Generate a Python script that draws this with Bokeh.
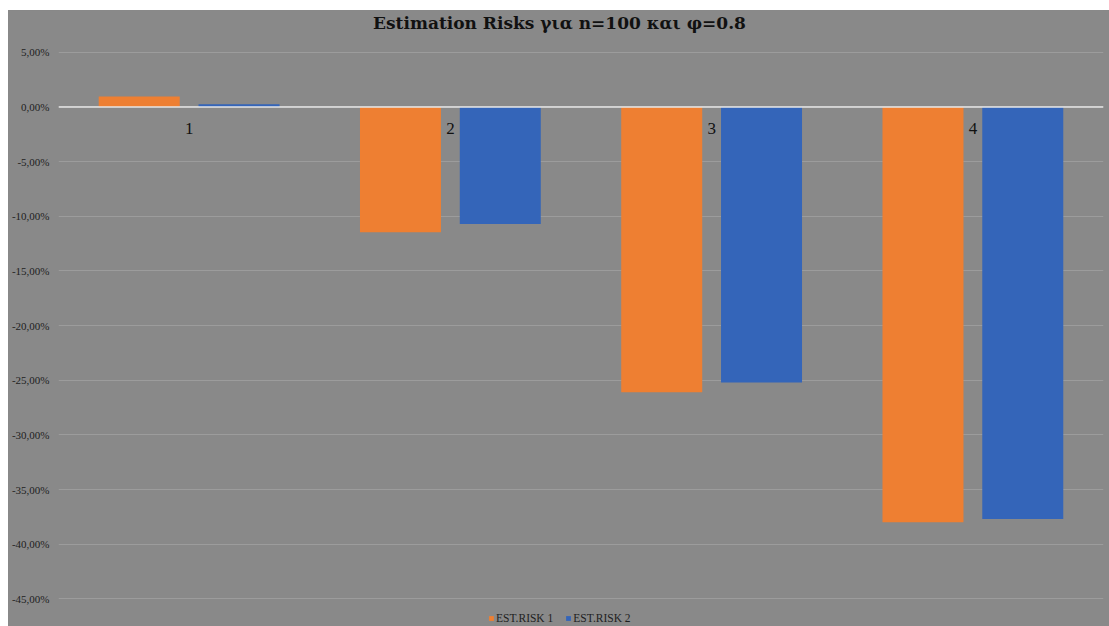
from bokeh.plotting import figure
from bokeh.layouts import column, row
from bokeh.models import (ColumnDataSource, FixedTicker, Span, Legend, LegendItem, Range1d,
                          Spacer, Label)
from bokeh.transform import dodge
from bokeh.core.properties import value
from bokeh.embed import file_html
from bokeh.resources import INLINE

# ---- data ----
categories = ["1", "2", "3", "4"]
cat_pos = [1, 2, 3, 4]
est_risk_1 = [0.95, -11.47, -26.1, -38.0]   # percent
est_risk_2 = [0.25, -10.7, -25.2, -37.7]    # percent
tick_values = [5, 0, -5, -10, -15, -20, -25, -30, -35, -40, -45]
tick_labels = ["5,00%", "0,00%", "-5,00%", "-10,00%", "-15,00%", "-20,00%",
               "-25,00%", "-30,00%", "-35,00%", "-40,00%", "-45,00%"]
series_names = ["EST.RISK 1", "EST.RISK 2"]
title_text = "Estimation Risks για n=100 και φ=0.8"

BG = "#898989"
ORANGE = "#EE7F32"
BLUE = "#3465B9"
SERIF = "Liberation Serif"

src = ColumnDataSource(dict(x=cat_pos, cat=categories, r1=est_risk_1, r2=est_risk_2,
                            zero=[0] * len(cat_pos)))

# frame spans the full figure height; the extra room above 5% holds the title
p = figure(width=1101, height=616, output_backend="svg", toolbar_location=None,
           x_range=Range1d(0.5, 4.5), y_range=Range1d(-47.53, 8.82),
           background_fill_color=BG, border_fill_color=BG,
           min_border_left=50, min_border_right=6, min_border_top=0, min_border_bottom=0)
p.outline_line_color = None
p.styles = {"background-color": BG}

# title (screen-positioned label)
p.add_layout(Label(x=501, y=604, x_units="screen", y_units="screen", text=title_text,
                   text_align="center", text_baseline="middle",
                   text_font="DejaVu Serif", text_font_style="bold",
                   text_font_size="17px", text_color="#111111"))

# bars
b1 = p.vbar(x=dodge("x", -0.191), top="r1", bottom=0, width=0.31, source=src,
            fill_color=ORANGE, line_color=None)
b2 = p.vbar(x=dodge("x", 0.191), top="r2", bottom=0, width=0.31, source=src,
            fill_color=BLUE, line_color=None)

# zero line
p.add_layout(Span(location=0, dimension="width", line_color="#e6e6e6", line_width=1.5))

# category labels just below the zero line
p.text(x="x", y="zero", text="cat", source=src, text_align="center", text_baseline="middle",
       y_offset=22, text_font=value(SERIF), text_font_size="17px", text_color="#111111")

# axes
p.xaxis.visible = False
p.xgrid.visible = False
p.yaxis.ticker = FixedTicker(ticks=tick_values)
p.yaxis.major_label_overrides = {v: l for v, l in zip(tick_values, tick_labels)}
p.yaxis.axis_line_color = None
p.yaxis.major_tick_line_color = None
p.yaxis.minor_tick_line_color = None
p.yaxis.major_tick_out = 0
p.yaxis.major_tick_in = 0
p.yaxis.minor_tick_out = 0
p.yaxis.minor_tick_in = 0
p.yaxis.major_label_text_font = SERIF
p.yaxis.major_label_text_font_size = "11px"
p.yaxis.major_label_text_color = "#1e1e1e"
p.yaxis.major_label_standoff = 9
p.ygrid.ticker = FixedTicker(ticks=tick_values)
p.ygrid.grid_line_color = "#9c9c9c"
p.ygrid.grid_line_width = 1

# legend
legend = Legend(items=[LegendItem(label=series_names[0], renderers=[b1]),
                       LegendItem(label=series_names[1], renderers=[b2])],
                orientation="horizontal", location=(430, 2))
legend.background_fill_alpha = 0
legend.border_line_color = None
legend.label_text_font = SERIF
legend.label_text_font_size = "11.5px"
legend.label_text_color = "#1e1e1e"
legend.glyph_width = 6
legend.glyph_height = 6
legend.label_standoff = 2
legend.spacing = 12
legend.padding = 2
legend.margin = 0
legend.label_height = 12
p.add_layout(legend)

layout = column(Spacer(height=10, width=1109), row(Spacer(width=8, height=616), p),
                spacing=0)

html = file_html(layout, INLINE)
html = html.replace("</head>", "<style>html,body{margin:0;padding:0;overflow:hidden;}</style></head>", 1)
open("out.html", "w").write(html)
